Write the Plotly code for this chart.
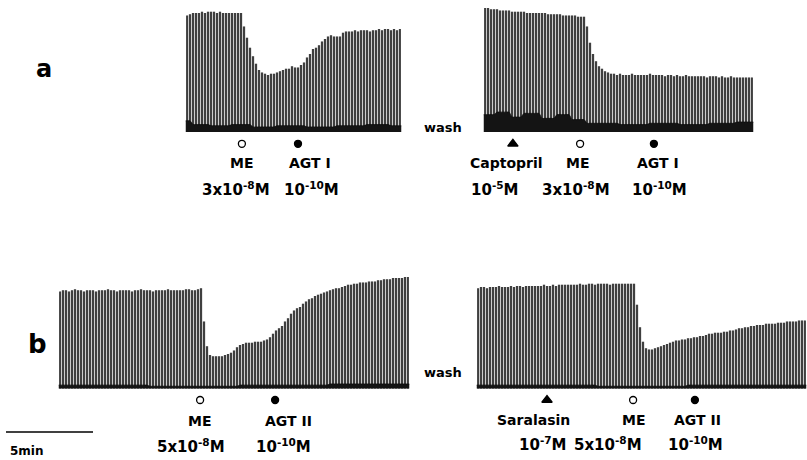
import plotly.graph_objects as go

W, H = 807, 460

# Twitch amplitudes (% of row maximum), one value per contraction
a_left = [94, 95, 96, 96, 96, 97, 96, 97, 97, 97, 96, 97, 96, 96, 96, 96, 96, 96, 96,
          85, 76, 68, 61, 55, 50, 48, 47, 46, 47, 47, 48, 49, 50, 51, 51, 53, 52, 52, 54,
          56, 60, 63, 67, 68, 70, 73, 75, 77, 78, 77, 77, 77, 80, 81,
          81, 81, 82, 81, 82, 82, 82, 81, 82, 82, 83, 82, 83, 83, 82, 83, 82, 83]

a_right = [100, 100, 99, 99, 99, 98, 98, 98, 98, 97, 97, 97, 97, 97, 96, 96, 96, 96, 96, 96,
           96, 95, 95, 95, 95, 95, 94, 94, 94, 94, 94, 93, 93, 93,
           85, 72, 63, 57, 53, 51, 49, 48, 47,
           47, 46, 47, 46, 46, 46, 47, 46, 46, 46, 46, 46, 47, 46, 46, 46, 46, 45, 46, 46,
           45, 46, 45, 45, 46, 45, 45, 45, 45, 45, 45, 44, 45, 45, 45, 44, 45, 44, 44, 45,
           44, 44, 44, 44, 44, 44, 44]

b_left = [87, 88, 88, 87, 88, 89, 88, 88, 87, 88, 88, 88, 87, 88, 88, 88, 89, 88, 88, 87,
          88, 88, 88, 88, 87, 88, 88, 89, 88, 88, 88, 87, 88, 88, 88, 88, 89, 88, 88, 88,
          88, 88, 89, 89, 88, 88, 89, 90,
          60, 38, 30, 29, 29, 29, 29, 30, 31, 32, 34, 37, 39, 40, 41, 41, 41, 42, 42, 42,
          43, 44, 46, 49, 52, 54, 56, 60, 63, 67, 70, 72, 73, 76, 78, 80, 81, 83, 84, 85,
          86, 87, 88, 89, 90, 90, 91, 92, 93, 93, 94, 94, 95, 95, 95, 96, 96, 96, 97, 97,
          98, 98, 98, 99, 99, 99, 99, 100, 100]

b_right = [90, 91, 91, 90, 91, 91, 91, 92, 91, 91, 91, 92, 91, 92, 92, 91, 92, 92, 92, 92,
           92, 92, 93, 92, 92, 93, 92, 93, 93, 93, 93, 93, 93, 93, 94, 93, 93, 94, 94, 93,
           94, 94, 94, 94, 93, 94, 94, 94, 94, 94, 94, 94, 94,
           75, 55, 42, 36, 35, 35, 36, 37, 38, 39, 40, 41, 42, 43, 43, 44, 44, 45, 45, 46,
           46, 47, 47, 48, 49, 49, 50, 50, 50, 51, 51, 52, 52, 53, 54, 54, 55, 55, 56, 56,
           57, 57, 57, 58, 58, 58, 58, 59, 59, 59, 60, 60, 60, 60, 61, 61, 61]

# Resting-tone band along the baseline: (first twitch, band height)
a_left_tone = [(0, 9), (2, 6), (8, 5), (15, 6), (22, 4), (30, 5), (40, 4), (50, 5), (60, 6), (68, 5)]
a_right_tone = [(0, 14), (4, 16), (9, 12), (13, 15), (19, 11), (24, 14), (29, 10), (34, 7),
                (45, 6), (55, 7), (65, 6), (75, 7), (84, 8)]
b_left_tone = [(0, 3), (30, 2), (60, 3), (90, 4)]
b_right_tone = [(0, 3), (40, 2), (70, 3)]

# Drug additions: (twitch number, marker, drug, concentration)
a_left_add = [(18.3, "circle-open", "ME", "3x10<sup>-8</sup>M"),
              (37.0, "circle", "AGT I", "10<sup>-10</sup>M")]
a_right_add = [(9.3, "triangle-up", "Captopril", "10<sup>-5</sup>M"),
               (31.7, "circle-open", "ME", "3x10<sup>-8</sup>M"),
               (56.3, "circle", "AGT I", "10<sup>-10</sup>M")]
b_left_add = [(46.7, "circle-open", "ME", "5x10<sup>-8</sup>M"),
              (71.7, "circle", "AGT II", "10<sup>-10</sup>M")]
b_right_add = [(23.0, "triangle-up", "Saralasin", "10<sup>-7</sup>M"),
               (51.7, "circle-open", "ME", "5x10<sup>-8</sup>M"),
               (72.3, "circle", "AGT II", "10<sup>-10</sup>M")]

# ---------------------------------------------------------------- layout
FONT = "DejaVu Sans"
SPACING = 3.0  # px between successive twitches

rows = {
    # baseline px, px per % unit, marker level (% units)
    "a": dict(base=132.0, scale=1.24, mark=-9.5),
    "b": dict(base=388.5, scale=1.115, mark=-10.3),
}

panels = [
    dict(amps=a_left, tone=a_left_tone, adds=a_left_add, row="a", left=187,
         name_y=163, conc_y=189, name_dx=[0, 12], conc_dx=[-6, 13]),
    dict(amps=a_right, tone=a_right_tone, adds=a_right_add, row="a", left=485,
         name_y=163, conc_y=189, name_dx=[-6, -2, 4], conc_dx=[-18, -4, 6]),
    dict(amps=b_left, tone=b_left_tone, adds=b_left_add, row="b", left=60,
         name_y=421, conc_y=446, name_dx=[0, 13], conc_dx=[-9, 8]),
    dict(amps=b_right, tone=b_right_tone, adds=b_right_add, row="b", left=478,
         name_y=420, conc_y=444, name_dx=[-14, 1, 3], conc_dx=[-5, -25, 1]),
]

Y_LO, Y_HI = -20, 105


def px_x(px):
    return px / W


def px_y(py):
    return 1 - py / H


fig = go.Figure()
annotations = []
layout_axes = {}

for k, p in enumerate(panels, start=1):
    xa = "x" if k == 1 else f"x{k}"
    ya = "y" if k == 1 else f"y{k}"
    xkey = "xaxis" if k == 1 else f"xaxis{k}"
    ykey = "yaxis" if k == 1 else f"yaxis{k}"
    r = rows[p["row"]]
    n = len(p["amps"])
    idx = list(range(n))

    x0 = p["left"] - SPACING / 2
    x1 = p["left"] + SPACING * n - SPACING / 2
    layout_axes[xkey] = dict(domain=[px_x(x0), min(1.0, px_x(x1))], range=[-0.5, n - 0.5],
                             visible=False, fixedrange=True)
    ylo_px = r["base"] - Y_LO * r["scale"]
    yhi_px = r["base"] - Y_HI * r["scale"]
    layout_axes[ykey] = dict(domain=[px_y(ylo_px), px_y(yhi_px)], range=[Y_LO, Y_HI],
                             visible=False, fixedrange=True)

    # grey body of the chart-recorder trace
    fig.add_trace(go.Scatter(x=idx, y=p["amps"], mode="lines", line=dict(width=0, shape="hvh"),
                             fill="tozeroy", fillcolor="rgba(140,140,140,0.45)",
                             xaxis=xa, yaxis=ya, hoverinfo="skip", showlegend=False))

    # one pen stroke per contraction
    xs, ys = [], []
    for i, a in enumerate(p["amps"]):
        xs += [i, i, None]
        ys += [0, a, None]
    fig.add_trace(go.Scatter(x=xs, y=ys, mode="lines", line=dict(color="#111111", width=1.5),
                             xaxis=xa, yaxis=ya, hoverinfo="skip", showlegend=False))

    # dark resting-tone band along the baseline
    tone = []
    steps = p["tone"] + [(n, None)]
    for (s, h), (e, _) in zip(steps[:-1], steps[1:]):
        tone += [h] * (e - s)
    fig.add_trace(go.Scatter(x=[-0.5] + idx + [n - 0.5], y=[tone[0]] + tone + [tone[-1]],
                             mode="lines", line=dict(width=1, color="#111", shape="spline",
                                                     smoothing=0.6),
                             fill="tozeroy", fillcolor="#141414",
                             xaxis=xa, yaxis=ya, hoverinfo="skip", showlegend=False))

    # drug addition markers and labels
    for j, (t, sym, drug, conc) in enumerate(p["adds"]):
        size = 9 if sym == "triangle-up" else 7
        fig.add_trace(go.Scatter(x=[t], y=[r["mark"]], mode="markers",
                                 marker=dict(symbol=sym, size=size, color="#000",
                                             line=dict(color="#000", width=1.3)),
                                 cliponaxis=False, xaxis=xa, yaxis=ya,
                                 hoverinfo="skip", showlegend=False))
        annotations.append(dict(x=t, xref=xa, y=px_y(p["name_y"]), yref="paper",
                                text=f"<b>{drug}</b>", showarrow=False,
                                xshift=p["name_dx"][j], xanchor="center", yanchor="middle",
                                font=dict(family=FONT, size=14, color="#000")))
        annotations.append(dict(x=t, xref=xa, y=px_y(p["conc_y"]), yref="paper",
                                text=f"<b>{conc}</b>", showarrow=False,
                                xshift=p["conc_dx"][j], xanchor="center", yanchor="middle",
                                font=dict(family=FONT, size=15, color="#000")))

# row letters, wash marks and time scale
for txt, x, y, size in [("a", 44, 69, 24), ("b", 37, 344, 26)]:
    annotations.append(dict(x=px_x(x), y=px_y(y), xref="paper", yref="paper", text=f"<b>{txt}</b>",
                            showarrow=False, xanchor="center", yanchor="middle",
                            font=dict(family=FONT, size=size, color="#000")))
for y in (127, 372):
    annotations.append(dict(x=px_x(443), y=px_y(y), xref="paper", yref="paper", text="<b>wash</b>",
                            showarrow=False, xanchor="center", yanchor="middle",
                            font=dict(family=FONT, size=13, color="#000")))
annotations.append(dict(x=px_x(8), y=px_y(451), xref="paper", yref="paper", text="<b>5min</b>",
                        showarrow=False, xanchor="left", yanchor="middle",
                        font=dict(family=FONT, size=12, color="#000")))

shapes = [dict(type="line", xref="paper", yref="paper", x0=px_x(6), x1=px_x(93),
               y0=px_y(432), y1=px_y(432), line=dict(color="#000", width=1.6))]

fig.update_layout(width=W, height=H, margin=dict(l=0, r=0, t=0, b=0),
                  paper_bgcolor="white", plot_bgcolor="rgba(0,0,0,0)",
                  annotations=annotations, shapes=shapes, showlegend=False, **layout_axes)

fig.write_html("out.html")
